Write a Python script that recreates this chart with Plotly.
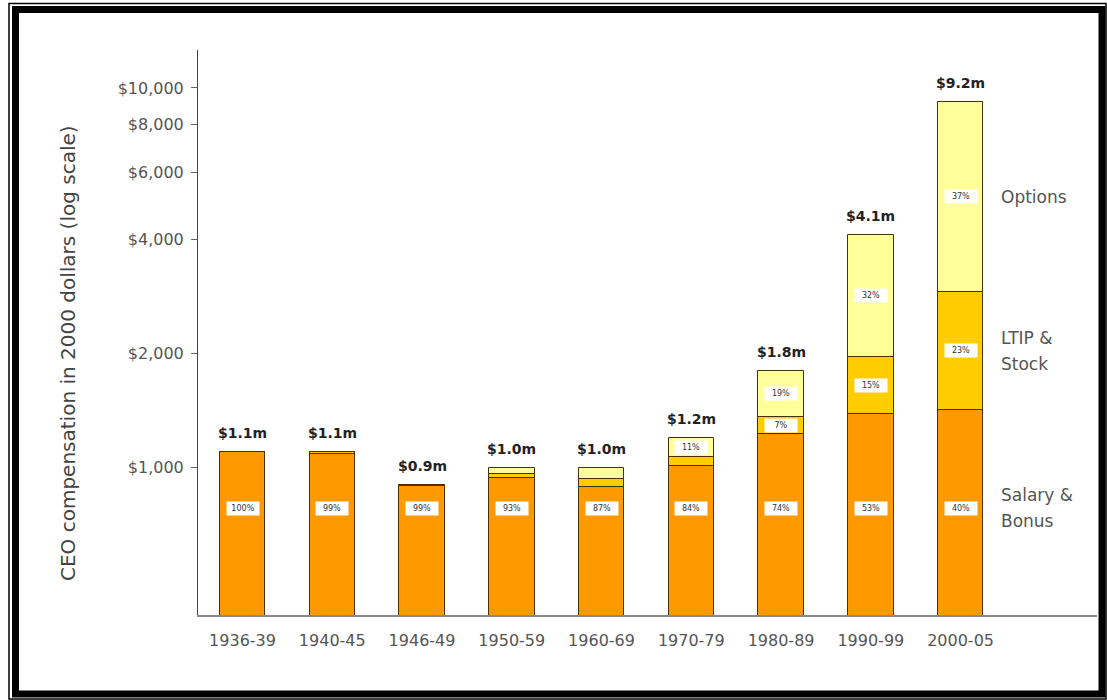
import math
import plotly.graph_objects as go

# CEO pay by period, total in $ millions (2000 dollars) and component shares (%)
periods = ["1936-39", "1940-45", "1946-49", "1950-59", "1960-69",
           "1970-79", "1980-89", "1990-99", "2000-05"]
total_m = [1.1, 1.1, 0.9, 1.0, 1.0, 1.2, 1.8, 4.1, 9.2]
salary_pct = [100, 99, 99, 93, 87, 84, 74, 53, 40]
ltip_pct = [0, 1, 1, 3, 5, 5, 7, 15, 23]
options_pct = [0, 0, 0, 4, 8, 11, 19, 32, 37]

tick_vals = [1000, 2000, 4000, 6000, 8000, 10000]
tick_text = ["$1,000", "$2,000", "$4,000", "$6,000", "$8,000", "$10,000"]

# log10 range of the value axis
Y_LO, Y_HI = 2.612, 4.1

# plot-area geometry in pixels (for paper-referenced decorations)
W, H = 1107, 700
L_PX, R_PX, T_PX, B_PX = 198, 1097, 50, 615


def px_x(px):
    return (px - L_PX) / (R_PX - L_PX)


def px_y(py):
    return (B_PX - py) / (B_PX - T_PX)


C_SAL = "#FF9900"
C_LTIP = "#FFCC00"
C_OPT = "#FFFF99"
EDGE = "#4a3000"
FONT = "DejaVu Sans"

totals = [t * 1000 for t in total_m]
spans = [math.log10(t) - Y_LO for t in totals]


def level(i, frac):
    """Value at a given fraction of bar i's height on the log axis."""
    return 10 ** (Y_LO + frac * spans[i])


cum_sal = [s / 100 for s in salary_pct]
cum_ltip = [(s + l) / 100 for s, l in zip(salary_pct, ltip_pct)]

top_opt = [level(i, 1.0) for i in range(len(periods))]
top_ltip = [level(i, cum_ltip[i]) for i in range(len(periods))]
top_sal = [level(i, cum_sal[i]) for i in range(len(periods))]

fig = go.Figure()
bar_w = 0.507
for name, ys, col in [("Options", top_opt, C_OPT),
                      ("LTIP & Stock", top_ltip, C_LTIP),
                      ("Salary & Bonus", top_sal, C_SAL)]:
    fig.add_trace(go.Bar(
        x=periods, y=ys, name=name, width=bar_w,
        marker=dict(color=col, line=dict(color=EDGE, width=1)),
        showlegend=False, hoverinfo="skip",
    ))

ann = []

# total pay above each bar
for i, t in enumerate(total_m):
    ann.append(dict(
        x=i, y=math.log10(totals[i]), xref="x", yref="y",
        text=f"${t:.1f}m", showarrow=False, yanchor="bottom", yshift=9,
        font=dict(family=FONT, size=14, color="#222", weight="bold"),
    ))


def pct_box(x, y, text, yref="y"):
    return dict(
        x=x, y=y, xref="x", yref=yref, text=text, showarrow=False,
        xanchor="center", yanchor="middle",
        font=dict(family=FONT, size=8, color="#333"),
        bgcolor="white", borderpad=2, width=28,
    )


SAL_LABEL_Y = px_y(508)
MIN_SPAN = 0.04  # minimum segment height (decades) that gets a label
for i in range(len(periods)):
    ann.append(pct_box(i, SAL_LABEL_Y, f"{salary_pct[i]}%", yref="paper"))
    if ltip_pct[i] / 100 * spans[i] >= MIN_SPAN:
        mid = Y_LO + (cum_sal[i] + cum_ltip[i]) / 2 * spans[i]
        ann.append(pct_box(i, mid, f"{ltip_pct[i]}%"))
    if options_pct[i] / 100 * spans[i] >= MIN_SPAN:
        mid = Y_LO + (cum_ltip[i] + 1.0) / 2 * spans[i]
        ann.append(pct_box(i, mid, f"{options_pct[i]}%"))

# component names beside the last bar (one annotation per line)
last = len(periods) - 1
side_x = 8.43
side_font = dict(family=FONT, size=17, color="#555")


def side_label(lines, y, yref):
    n = len(lines)
    for k, line in enumerate(lines):
        ann.append(dict(x=side_x, y=y, xref="x", yref=yref, text=line,
                        showarrow=False, xanchor="left", yanchor="middle",
                        yshift=(n - 1) / 2 * 26 - k * 26, font=side_font))


side_label(["Options"], Y_LO + (cum_ltip[last] + 1) / 2 * spans[last], "y")
side_label(["LTIP &", "Stock"],
           Y_LO + (cum_sal[last] + cum_ltip[last]) / 2 * spans[last], "y")
side_label(["Salary &", "Bonus"], SAL_LABEL_Y, "paper")

# axis title
ann.append(dict(x=px_x(68), y=px_y(353), xref="paper", yref="paper",
                xanchor="center", yanchor="middle",
                text="CEO compensation in 2000 dollars (log scale)",
                textangle=-90, showarrow=False,
                font=dict(family=FONT, size=20, color="#444")))

# double black frame round the figure
shapes = [
    dict(type="rect", xref="paper", yref="paper",
         x0=px_x(9), x1=px_x(1106), y0=px_y(3.5), y1=px_y(699),
         line=dict(color="black", width=1.5), layer="above"),
    dict(type="rect", xref="paper", yref="paper",
         x0=px_x(15.5), x1=px_x(1102), y0=px_y(9.5), y1=px_y(694),
         line=dict(color="black", width=7), layer="above"),
]

fig.update_layout(
    width=W, height=H,
    margin=dict(l=L_PX, r=W - R_PX, t=T_PX, b=H - B_PX),
    paper_bgcolor="white", plot_bgcolor="white",
    barmode="overlay", bargap=0,
    annotations=ann, shapes=shapes,
    xaxis=dict(
        type="category", range=[-0.496, 9.52],
        showline=True, linecolor="#8a8a8a", linewidth=2,
        showgrid=False, zeroline=False,
        ticks="outside", ticklen=10, tickcolor="rgba(0,0,0,0)",
        tickfont=dict(family=FONT, size=16, color="#555"),
    ),
    yaxis=dict(
        type="log", range=[Y_LO, Y_HI],
        tickvals=tick_vals, ticktext=tick_text,
        showline=True, linecolor="#444", linewidth=1,
        showgrid=False, zeroline=False,
        ticks="outside", ticklen=6, tickcolor="#666",
        ticklabelstandoff=4,
        tickfont=dict(family=FONT, size=16, color="#555"),
    ),
)

fig.write_html("out.html")
